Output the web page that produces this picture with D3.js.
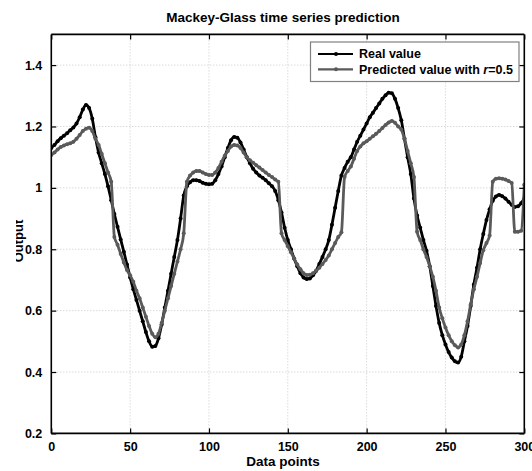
<!DOCTYPE html>
<html>
<head>
<meta charset="utf-8">
<script src="https://cdn.jsdelivr.net/npm/d3@7/dist/d3.min.js"></script>
<style>
  html, body { margin: 0; padding: 0; background: #fff; }
  svg { display: block; }
  text { font-family: Arial, "Liberation Sans", sans-serif; font-weight: bold; fill: #000; }
</style>
</head>
<body>
<svg id="chart" width="532" height="471"></svg>
<script>
// ---- data ----
const title = "Mackey-Glass time series prediction";
const xLabel = "Data points";
const yLabel = "Output";
const xTicks = [0, 50, 100, 150, 200, 250, 300];
const yTicks = [0.2, 0.4, 0.6, 0.8, 1, 1.2, 1.4];
const sampleStep = 2; // data point spacing of the sampled series (0..300)

const realValue = [
  1.13,1.14,1.152,1.162,1.17,1.178,1.188,1.197,1.21,1.23,
  1.255,1.27,1.26,1.225,1.165,1.115,1.08,1.045,1.005,0.96,
  0.915,0.873,0.832,0.792,0.75,0.708,0.67,0.635,0.6,0.565,
  0.53,0.5,0.482,0.485,0.51,0.555,0.61,0.665,0.72,0.775,
  0.83,0.9,0.975,1.005,1.018,1.025,1.025,1.022,1.017,1.013,
  1.012,1.013,1.025,1.045,1.07,1.1,1.13,1.155,1.166,1.163,
  1.148,1.125,1.1,1.08,1.062,1.05,1.04,1.033,1.025,1.015,
  1.005,0.99,0.96,0.92,0.87,0.83,0.8,0.77,0.745,0.722,
  0.708,0.703,0.705,0.715,0.73,0.752,0.775,0.8,0.83,0.88,
  0.935,0.99,1.04,1.065,1.085,1.1,1.125,1.15,1.17,1.19,
  1.21,1.23,1.245,1.26,1.275,1.29,1.302,1.31,1.308,1.29,
  1.26,1.22,1.16,1.1,1.045,0.965,0.91,0.87,0.83,0.795,
  0.745,0.68,0.615,0.56,0.52,0.49,0.465,0.447,0.435,0.431,
  0.45,0.5,0.55,0.615,0.685,0.74,0.8,0.85,0.895,0.93,
  0.958,0.972,0.977,0.973,0.965,0.955,0.945,0.938,0.94,0.95,
  0.965
];

const predictedValue = [
  1.107,1.115,1.125,1.133,1.138,1.142,1.145,1.15,1.16,1.172,
  1.185,1.193,1.196,1.185,1.16,1.14,1.11,1.08,1.05,1.02,
  0.84,0.815,0.785,0.757,0.732,0.715,0.694,0.665,0.64,0.61,
  0.58,0.55,0.525,0.513,0.525,0.56,0.6,0.64,0.68,0.72,
  0.76,0.8,0.852,1.02,1.04,1.05,1.055,1.055,1.05,1.045,
  1.042,1.042,1.05,1.065,1.085,1.105,1.12,1.135,1.14,1.138,
  1.13,1.115,1.1,1.09,1.082,1.074,1.066,1.058,1.05,1.042,
  1.035,1.027,1.02,0.852,0.83,0.81,0.79,0.77,0.75,0.735,
  0.722,0.716,0.717,0.722,0.73,0.74,0.752,0.765,0.78,0.8,
  0.82,0.84,0.855,1.035,1.055,1.07,1.095,1.12,1.135,1.145,
  1.152,1.16,1.168,1.176,1.185,1.195,1.205,1.213,1.218,1.212,
  1.2,1.19,1.16,1.12,1.08,1.035,0.857,0.83,0.8,0.775,
  0.745,0.71,0.665,0.61,0.575,0.545,0.52,0.5,0.487,0.48,
  0.49,0.52,0.565,0.62,0.67,0.71,0.755,0.797,0.82,0.845,
  1.02,1.03,1.031,1.03,1.027,1.022,1.016,0.857,0.857,0.86,
  1.01
];

const seriesNames = ["Real value", "Predicted value with "];
const seriesColors = ["#000000", "#5a5a5a"];

// ---- layout ----
const svg = d3.select("#chart");
const L = 51.3, R = 524.3, T = 34.4, B = 433.4;

const x = d3.scaleLinear().domain([0, 300]).range([L, R]);
const y = d3.scaleLinear().domain([0.2, 1.5]).range([B, T]);

// grid
const grid = svg.append("g");
grid.selectAll(".gx").data(xTicks.filter(d => d > 0 && d < 300)).join("line")
  .attr("x1", d => x(d)).attr("x2", d => x(d)).attr("y1", T).attr("y2", B)
  .attr("stroke", "#c8c8c8").attr("stroke-width", 1).attr("stroke-dasharray", "1,2");
grid.selectAll(".gy").data(yTicks.filter(d => d > 0.2)).join("line")
  .attr("x1", L).attr("x2", R).attr("y1", d => y(d)).attr("y2", d => y(d))
  .attr("stroke", "#c8c8c8").attr("stroke-width", 1).attr("stroke-dasharray", "1,2");

// series
const series = [realValue, predictedValue];
svg.append("clipPath").attr("id", "plotclip").append("rect")
  .attr("x", L).attr("y", T).attr("width", R - L).attr("height", B - T);
const line = d3.line().curve(d3.curveMonotoneX).x((d, i) => x(i * sampleStep)).y(d => y(d));
const plot = svg.append("g").attr("clip-path", "url(#plotclip)");
series.forEach((vals, k) => {
  const g = plot.append("g");
  g.append("path").datum(vals).attr("d", line)
    .attr("fill", "none").attr("stroke", seriesColors[k]).attr("stroke-width", 2.8)
    .attr("stroke-linejoin", "round");
  g.selectAll("circle").data(vals).join("circle")
    .attr("cx", (d, i) => x(i * sampleStep)).attr("cy", d => y(d))
    .attr("r", 2).attr("fill", seriesColors[k]);
});

// axes (ticks inward, box)
const axB = svg.append("g").attr("transform", `translate(0,${B})`)
  .call(d3.axisBottom(x).tickValues(xTicks).tickSize(-5).tickPadding(9).tickFormat(d3.format("d")));
const axT = svg.append("g").attr("transform", `translate(0,${T})`)
  .call(d3.axisTop(x).tickValues(xTicks).tickSize(-5).tickFormat(""));
const axL = svg.append("g").attr("transform", `translate(${L},0)`)
  .call(d3.axisLeft(y).tickValues(yTicks).tickSize(-5).tickPadding(9).tickFormat(d => d3.format("")(d)));
const axR = svg.append("g").attr("transform", `translate(${R},0)`)
  .call(d3.axisRight(y).tickValues(yTicks).tickSize(-5).tickFormat(""));
[axB, axT, axL, axR].forEach(a => {
  a.select(".domain").attr("stroke", "#000").attr("stroke-width", 1.6);
  a.selectAll(".tick line").attr("stroke", "#000").attr("stroke-width", 1.2);
  a.selectAll("text").attr("font-size", 12.5).attr("font-weight", "bold")
    .attr("font-family", "Arial, 'Liberation Sans', sans-serif").attr("fill", "#000");
});
axB.selectAll(".domain").attr("d", `M${L},0H${R}`);
axT.selectAll(".domain").attr("d", `M${L},0H${R}`);
axL.selectAll(".domain").attr("d", `M0,${B}V${T}`);
axR.selectAll(".domain").attr("d", `M0,${B}V${T}`);

// title and labels
svg.append("text").attr("x", 283).attr("y", 22).attr("text-anchor", "middle")
  .attr("font-size", 13.5).text(title);
svg.append("text").attr("x", 283).attr("y", 466).attr("text-anchor", "middle")
  .attr("font-size", 13.5).text(xLabel);
svg.append("clipPath").attr("id", "ylabclip").append("rect")
  .attr("x", 16).attr("y", 0).attr("width", 40).attr("height", 471);
svg.append("g").attr("clip-path", "url(#ylabclip)")
  .append("text").attr("transform", "translate(23,241) rotate(-90)")
  .attr("text-anchor", "middle").attr("font-size", 13).text(yLabel);

// legend
const lg = svg.append("g");
lg.append("rect").attr("x", 310.5).attr("y", 42).attr("width", 208.5).attr("height", 39.5)
  .attr("fill", "#fff").attr("stroke", "#808080").attr("stroke-width", 1.2);
const ly = [54, 69.3];
seriesNames.forEach((name, k) => {
  lg.append("line").attr("x1", 318).attr("x2", 353).attr("y1", ly[k]).attr("y2", ly[k])
    .attr("stroke", seriesColors[k]).attr("stroke-width", 2.2);
  lg.append("circle").attr("cx", 336).attr("cy", ly[k]).attr("r", 2).attr("fill", seriesColors[k]);
  const t = lg.append("text").attr("x", 359).attr("y", ly[k] + 4.4).attr("font-size", 12.5).text(name);
  if (k === 1) {
    t.append("tspan").attr("font-style", "italic").text("r");
    t.append("tspan").text("=0.5");
  }
});
</script>
</body>
</html>
